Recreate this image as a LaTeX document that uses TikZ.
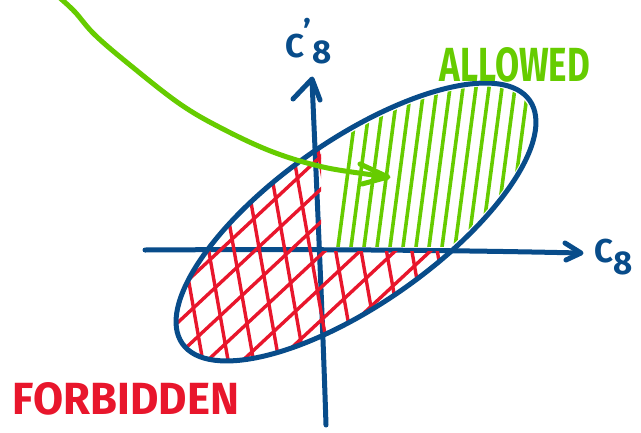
\documentclass[tikz,border=0pt]{standalone}
\usepackage{fontspec}
\setmainfont{Fira Sans}
\definecolor{axblue}{RGB}{8,76,138}
\definecolor{hgreen}{RGB}{102,204,0}
\definecolor{hred}{RGB}{232,22,44}
\begin{document}
\begin{tikzpicture}[x=1pt,y=-1pt, line cap=round, line join=round,
  blueline/.style={draw=axblue, line width=5pt},
  greenline/.style={draw=hgreen, line width=5pt},
  hatchgreen/.style={draw=hgreen, line width=3.6pt},
  redline/.style={draw=hred, line width=3.4pt},
  lab/.style={font=\bfseries\fontsize{33}{33}\selectfont, inner sep=0pt}]
\useasboundingbox (0,0) rectangle (641,432);
\coordinate (O) at (356,222);
% axes
\draw[blueline] (145,250) .. controls (300,249) and (450,250) .. (580,253);
\draw[blueline] (565,243) -- (581,253) -- (566,260);
\draw[blueline] (326,425) .. controls (322,300) and (315,150) .. (312,80);
\draw[blueline] (293,99) -- (312,79) -- (320,100);
% red cross-hatching (forbidden part)
\begin{scope}
  \clip[rotate around={35:(O)}] (O) ellipse [x radius=212pt, y radius=82pt];
  \clip (0,0) -- (321,0) -- (321,251) -- (641,251) -- (641,432) -- (0,432) -- cycle;
  \begin{scope}[rotate around={10:(O)}]
    \foreach \k in {-13,...,13} \draw[redline] ({356+\k*25},-60) -- ({356+\k*25},500);
  \end{scope}
  \begin{scope}[rotate around={-47:(O)}]
    \foreach \k in {-15,...,15} \draw[redline] ({356+\k*24},-160) -- ({356+\k*24},600);
  \end{scope}
\end{scope}
% green hatching (allowed part)
\begin{scope}
  \clip[rotate around={35:(O)}] (O) ellipse [x radius=208pt, y radius=78pt];
  \clip (328,0) rectangle (641,246);
  \foreach \k in {0,...,14} \draw[hatchgreen] ({338+\k*13},247) -- ({364+\k*13},50);
\end{scope}
% ellipse
\draw[blueline, rotate around={35:(O)}] (O) ellipse [x radius=212pt, y radius=82pt];
% green arrow
\draw[greenline] plot[smooth, tension=0.6] coordinates {(60,-2) (75,12) (95,35) (130,65) (180,104) (223,129) (273,152) (323,167) (373,175) (386,177)};
\draw[greenline] (360,164) -- (388,177) -- (362,184);
% labels
\node[lab, text=axblue, anchor=base west] (cprime) at (285,57) {C\kern-1pt\raisebox{14pt}{'}\kern1pt\raisebox{-6pt}{8}};
\node[lab, text=axblue, anchor=base west] (cx) at (594,262) {C\raisebox{-12pt}{8}};
\node[lab, text=hgreen] (allowed) at (515,65) {\resizebox{150pt}{34pt}{ALLOWED}};
\node[lab, text=hred] (forbidden) at (126,399) {\resizebox{226pt}{32pt}{FORBIDDEN}};
\end{tikzpicture}
\end{document}
